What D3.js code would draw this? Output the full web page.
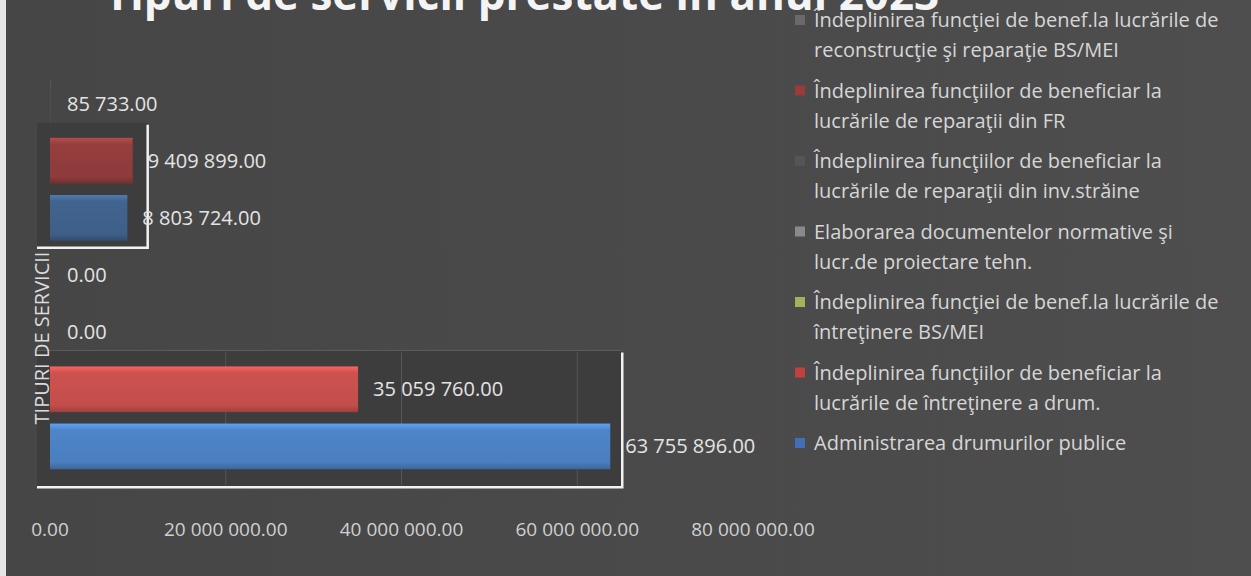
<!DOCTYPE html>
<html>
<head>
<meta charset="utf-8">
<script src="https://cdn.jsdelivr.net/npm/d3@7"></script>
<style>
	body { margin: 0; background: #484848; }
	svg { display: block; }
	text { font-family: 'Open Sans', sans-serif; }
</style>
</head>
<body>
<div id="chart"></div>
<script>
var title = 'Tipuri de servicii prestate în anul 2023'
var axisTitle = 'TIPURI DE SERVICII'

// legend order, top to bottom (same order as the bars)
var seriesNames = [
	['Îndeplinirea funcţiei de benef.la lucrările de', 'reconstrucţie şi reparaţie BS/MEI'],
	['Îndeplinirea funcţiilor de beneficiar la', 'lucrările de reparaţii din FR'],
	['Îndeplinirea funcţiilor de beneficiar la', 'lucrările de reparaţii din inv.străine'],
	['Elaborarea documentelor normative şi', 'lucr.de proiectare tehn.'],
	['Îndeplinirea funcţiei de benef.la lucrările de', 'întreţinere BS/MEI'],
	['Îndeplinirea funcţiilor de beneficiar la', 'lucrările de întreţinere a drum.'],
	['Administrarea drumurilor publice']
]
var values = [85733, 9409899, 8803724, 0, 0, 35059760, 63755896]
var barColors = ['#505050', '#8e3b3b', '#3e5f88', '#7a6a92', '#9bbb59', '#c24e4b', '#4a7ebf']
var markerColors = ['#6a6a6a', '#9a3a3a', '#555555', '#8a8a8a', '#a3b458', '#c0413e', '#3f70b8']
var xTicks = [0, 20000000, 40000000, 60000000, 80000000]

makeChart('#chart')

function makeChart(div) {
	var width = 1251
	var height = 576

	var svg = d3.select(div).append('svg')
		.attr('width', width)
		.attr('height', height)

	var defs = svg.append('defs')

	var bg = defs.append('linearGradient').attr('id', 'bg')
		.attr('x1', 0).attr('x2', 1).attr('y1', 0).attr('y2', 0)
	bg.append('stop').attr('offset', '0%').attr('stop-color', '#464646')
	bg.append('stop').attr('offset', '70%').attr('stop-color', '#4b4b4b')
	bg.append('stop').attr('offset', '100%').attr('stop-color', '#4e4e4e')

	svg.append('rect')
		.attr('width', width)
		.attr('height', height)
		.attr('fill', 'url(#bg)')

	// scanned page edge on the left
	svg.append('rect')
		.attr('width', 6)
		.attr('height', height)
		.attr('fill', '#e6e6e6')

	var xScale = d3.scaleLinear()
		.domain([0, 80000000])
		.range([50, 753])

	var yScale = d3.scaleBand()
		.domain(d3.range(values.length))
		.range([75, 475])
		.paddingInner(0.2)
		.paddingOuter(0.1)

	var fmt = d3.formatLocale({decimal: '.', thousands: ' ', grouping: [3]}).format(',.2f')

	// bar gradients (bevel look)
	barColors.forEach(function(c, i) {
		var g = defs.append('linearGradient').attr('id', 'bar' + i)
			.attr('x1', 0).attr('x2', 0).attr('y1', 0).attr('y2', 1)
		g.append('stop').attr('offset', '0%').attr('stop-color', d3.color(c).brighter(0.7))
		g.append('stop').attr('offset', '14%').attr('stop-color', d3.color(c).brighter(0.15))
		g.append('stop').attr('offset', '85%').attr('stop-color', c)
		g.append('stop').attr('offset', '100%').attr('stop-color', d3.color(c).darker(0.6))
	})

	// the two plot boxes seen in the picture
	var boxes = [
		{from: 1, to: 2, top: 15, bottom: 7, right: 15},
		{from: 5, to: 6, top: 16, bottom: 18, right: 12}
	]
	boxes.forEach(function(b, k) {
		var y0 = yScale(b.from) - b.top
		var y1 = yScale(b.to) + yScale.bandwidth() + b.bottom
		var x1 = xScale(d3.max(values.slice(b.from, b.to + 1))) + b.right
		svg.append('rect')
			.attr('x', 37)
			.attr('y', y0)
			.attr('width', x1 - 37)
			.attr('height', y1 - y0)
			.attr('fill', '#3d3d3d')
		if (k == 1) {
			svg.append('g').selectAll('line')
				.data(xTicks.filter(function(t) { return t > 0 && xScale(t) < x1 }))
				.enter().append('line')
				.attr('x1', function(d) { return xScale(d) })
				.attr('x2', function(d) { return xScale(d) })
				.attr('y1', y0 + 2)
				.attr('y2', y1 - 2)
				.attr('stroke', '#565656')
				.attr('stroke-width', 1)
			svg.append('line')
				.attr('x1', 37).attr('x2', x1)
				.attr('y1', y0).attr('y2', y0)
				.attr('stroke', '#5e5e5e')
		}
		svg.append('path')
			.attr('d', 'M37,' + y1 + 'H' + x1 + 'V' + (y0 + 2))
			.attr('fill', 'none')
			.attr('stroke', '#f2f2f2')
			.attr('stroke-width', 2.5)
	})

	svg.append('g').selectAll('rect')
		.data(values)
		.enter().append('rect')
		.attr('x', xScale(0))
		.attr('y', function(d, i) { return yScale(i) })
		.attr('width', function(d) { return xScale(d) - xScale(0) })
		.attr('height', yScale.bandwidth())
		.attr('fill', function(d, i) { return 'url(#bar' + i + ')' })

	svg.append('g').selectAll('text')
		.data(values)
		.enter().append('text')
		.attr('x', function(d) { return Math.max(xScale(d), xScale(0) + 2) + 15 })
		.attr('y', function(d, i) { return yScale(i) + yScale.bandwidth() / 2 })
		.attr('dy', '0.35em')
		.attr('fill', '#e4e4e4')
		.style('font-size', '20px')
		.text(function(d) { return fmt(d) })

	svg.append('text')
		.attr('transform', 'translate(49,338) rotate(-90)')
		.style('text-anchor', 'middle')
		.style('font-size', '20px')
		.attr('fill', '#dcdcdc')
		.text(axisTitle)

	svg.append('g').selectAll('text')
		.data(xTicks)
		.enter().append('text')
		.attr('x', function(d) { return xScale(d) })
		.attr('y', 529)
		.attr('dy', '0.35em')
		.style('text-anchor', 'middle')
		.style('font-size', '19px')
		.attr('fill', '#d0d0d0')
		.text(function(d) { return fmt(d) })

	svg.append('text')
		.attr('x', 522)
		.attr('y', 10)
		.style('text-anchor', 'middle')
		.style('font-size', '44px')
		.style('font-weight', 'bold')
		.attr('fill', '#f4f4f4')
		.text(title)

	// legend
	var legend = svg.append('g').attr('transform', 'translate(800,20)')
	var item = legend.selectAll('g')
		.data(seriesNames)
		.enter().append('g')
		.attr('transform', function(d, i) { return 'translate(0,' + (i * 70.5) + ')' })

	item.append('rect')
		.attr('x', -5).attr('y', -5)
		.attr('width', 10).attr('height', 10)
		.attr('fill', function(d, i) { return markerColors[i] })

	item.selectAll('text')
		.data(function(d) { return d })
		.enter().append('text')
		.attr('x', 14)
		.attr('y', function(d, j) { return j * 30 })
		.attr('dy', '0.35em')
		.style('font-size', '20px')
		.attr('fill', '#d6d6d6')
		.text(function(d) { return d })
}
</script>
</body>
</html>
